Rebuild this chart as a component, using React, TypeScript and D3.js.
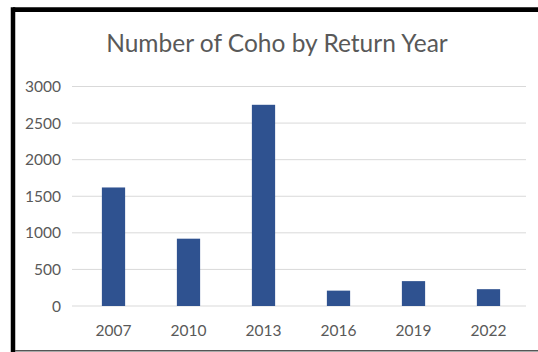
import React from "react";
import * as d3 from "d3";

const years = ["2007", "2010", "2013", "2016", "2019", "2022"];
const counts = [1620, 920, 2750, 210, 340, 230];
const yTicks = [0, 500, 1000, 1500, 2000, 2500, 3000];
const title = "Number of Coho by Return Year";

export default function App() {
  const W = 538, H = 352;
  const left = 76, right = 526, top = 86.5, bottom = 306;
  const x = d3.scaleBand<string>().domain(years).range([left, right]).paddingInner(0.69).paddingOuter(0.345);
  const y = d3.scaleLinear().domain([0, 3000]).range([bottom, top]);
  const font = "Lato, 'Open Sans', sans-serif";
  const textColor = "#595959";
  return (
    <svg width={W} height={H} style={{ position: "absolute", left: 0, top: 0 }}>
      <rect x={0} y={0} width={W} height={H} fill="#ffffff" />
      {yTicks.map((t) => (
        <g key={t}>
          <line x1={72} x2={right} y1={y(t)} y2={y(t)} stroke="#d9d9d9" strokeWidth={1} />
          <text x={61} y={y(t)} dy="0.36em" textAnchor="end" fontFamily={font} fontSize={15.5} fill={textColor}>
            {t}
          </text>
        </g>
      ))}
      {years.map((yr, i) => (
        <rect key={yr} x={x(yr)} y={y(counts[i])} width={x.bandwidth()} height={bottom - y(counts[i])} fill="#2f5290" />
      ))}
      {years.map((yr) => (
        <text key={yr} x={(x(yr) as number) + x.bandwidth() / 2} y={336} textAnchor="middle" fontFamily={font} fontSize={15.5} fill={textColor}>
          {yr}
        </text>
      ))}
      <text x={277} y={52} textAnchor="middle" fontFamily={font} fontSize={24.5} fill={textColor}>
        {title}
      </text>
      <line x1={13} x2={W} y1={9.7} y2={9.7} stroke="#000" strokeWidth={4.8} />
      <line x1={13} x2={13} y1={7.3} y2={H} stroke="#000" strokeWidth={4.5} />
      <line x1={15} x2={W} y1={350.7} y2={350.7} stroke="#555" strokeWidth={1.6} />
    </svg>
  );
}
